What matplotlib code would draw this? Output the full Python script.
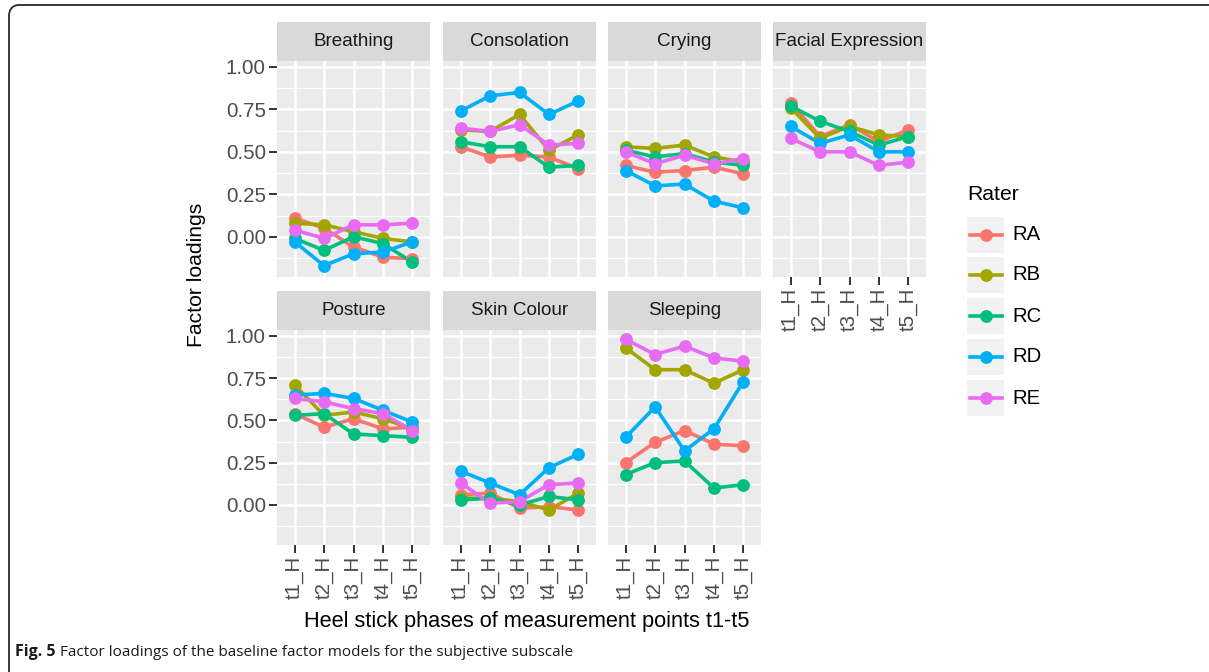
import matplotlib
matplotlib.use('Agg')
import matplotlib.pyplot as plt
from matplotlib.patches import Rectangle
from matplotlib.lines import Line2D
from matplotlib.path import Path
from matplotlib.patches import PathPatch

W, H = 1209, 672

phases = ['t1_H', 't2_H', 't3_H', 't4_H', 't5_H']
raters = ['RA', 'RB', 'RC', 'RD', 'RE']
rater_colors = ['#F8766D', '#A3A500', '#00BF7D', '#00B0F6', '#E76BF3']

breathing = {
    'RA': [0.11, 0.05, -0.06, -0.12, -0.13],
    'RB': [0.08, 0.07, 0.03, -0.01, -0.03],
    'RC': [-0.01, -0.08, 0.00, -0.04, -0.15],
    'RD': [-0.03, -0.17, -0.10, -0.09, -0.03],
    'RE': [0.04, -0.01, 0.07, 0.07, 0.08],
}
consolation = {
    'RA': [0.53, 0.47, 0.48, 0.47, 0.40],
    'RB': [0.63, 0.62, 0.72, 0.51, 0.60],
    'RC': [0.56, 0.53, 0.53, 0.41, 0.42],
    'RD': [0.74, 0.83, 0.85, 0.72, 0.80],
    'RE': [0.64, 0.62, 0.66, 0.54, 0.55],
}
crying = {
    'RA': [0.42, 0.38, 0.39, 0.41, 0.37],
    'RB': [0.53, 0.52, 0.54, 0.47, 0.44],
    'RC': [0.51, 0.47, 0.49, 0.44, 0.42],
    'RD': [0.39, 0.30, 0.31, 0.21, 0.17],
    'RE': [0.50, 0.43, 0.48, 0.43, 0.46],
}
facial_expression = {
    'RA': [0.79, 0.59, 0.66, 0.56, 0.63],
    'RB': [0.76, 0.58, 0.65, 0.60, 0.59],
    'RC': [0.77, 0.68, 0.62, 0.54, 0.59],
    'RD': [0.65, 0.55, 0.60, 0.50, 0.50],
    'RE': [0.58, 0.50, 0.50, 0.42, 0.44],
}
posture = {
    'RA': [0.54, 0.46, 0.51, 0.45, 0.46],
    'RB': [0.71, 0.53, 0.55, 0.51, 0.45],
    'RC': [0.53, 0.54, 0.42, 0.41, 0.40],
    'RD': [0.65, 0.66, 0.63, 0.56, 0.49],
    'RE': [0.63, 0.61, 0.57, 0.54, 0.44],
}
skin_colour = {
    'RA': [0.06, 0.07, -0.02, -0.01, -0.03],
    'RB': [0.04, 0.04, 0.02, -0.03, 0.07],
    'RC': [0.03, 0.04, 0.00, 0.05, 0.03],
    'RD': [0.20, 0.13, 0.06, 0.22, 0.30],
    'RE': [0.13, 0.01, 0.02, 0.12, 0.13],
}
sleeping = {
    'RA': [0.25, 0.37, 0.44, 0.36, 0.35],
    'RB': [0.93, 0.80, 0.80, 0.72, 0.80],
    'RC': [0.18, 0.25, 0.26, 0.10, 0.12],
    'RD': [0.40, 0.58, 0.32, 0.45, 0.73],
    'RE': [0.98, 0.89, 0.94, 0.87, 0.85],
}

facet_titles = ['Breathing', 'Consolation', 'Crying', 'Facial Expression',
                'Posture', 'Skin Colour', 'Sleeping']
facet_data = [breathing, consolation, crying, facial_expression,
              posture, skin_colour, sleeping]

y_ticks = [0.00, 0.25, 0.50, 0.75, 1.00]
y_minor = [-0.125, 0.125, 0.375, 0.625, 0.875]

FONT = 'Liberation Sans'
plt.rcParams['font.family'] = [FONT, 'DejaVu Sans']

fig = plt.figure(figsize=(W / 100, H / 100), dpi=100)
fig.patch.set_facecolor('white')


def px_axes(x0, y0, x1, y1, **kw):
    return fig.add_axes([x0 / W, 1 - y1 / H, (x1 - x0) / W, (y1 - y0) / H], **kw)


col_x = [(277, 430), (443, 596), (608, 761), (773, 926)]
row_y = [((22, 61), (61, 277)), ((291, 330), (330, 545))]

positions = [(0, 0), (0, 1), (0, 2), (0, 3), (1, 0), (1, 1), (1, 2)]
show_x = {(0, 3), (1, 0), (1, 1), (1, 2)}

xs = list(range(1, len(phases) + 1))
TICK_FS = 14.8

for (r, c), title, data in zip(positions, facet_titles, facet_data):
    x0, x1 = col_x[c]
    (sy0, sy1), (py0, py1) = row_y[r]
    ax = px_axes(x0, py0, x1, py1)
    ax.set_facecolor('#EBEBEB')
    ax.set_xlim(0.4, 5.6)
    ax.set_ylim(-0.237, 1.035)
    for s in ax.spines.values():
        s.set_visible(False)
    ax.set_xticks(xs)
    ax.set_yticks(y_ticks)
    ax.set_yticks(y_minor, minor=True)
    ax.grid(which='major', color='white', lw=1.8, zorder=0)
    ax.grid(which='minor', axis='y', color='white', lw=0.9, zorder=0)
    ax.set_axisbelow(True)
    ax.tick_params(which='minor', length=0)
    if c == 0:
        ax.set_yticklabels([f'{v:.2f}' for v in y_ticks])
        ax.tick_params(axis='y', length=6, width=1.4, color='#333333',
                       labelsize=TICK_FS, labelcolor='#4D4D4D', pad=2)
    else:
        ax.tick_params(axis='y', length=0, labelleft=False)
    if (r, c) in show_x:
        ax.set_xticklabels(phases, rotation=90)
        ax.tick_params(axis='x', length=6, width=1.4, color='#333333',
                       labelsize=TICK_FS, labelcolor='#4D4D4D', pad=2)
    else:
        ax.tick_params(axis='x', length=0, labelbottom=False)

    for rater, col in zip(raters, rater_colors):
        ax.plot(xs, data[rater], color=col, lw=2.6, zorder=2,
                solid_capstyle='butt')
    for rater, col in zip(raters, rater_colors):
        ax.plot(xs, data[rater], linestyle='none', marker='o', ms=8.2,
                color=col, mec=col, zorder=3)

    sax = px_axes(x0, sy0, x1, sy1)
    sax.set_facecolor('#D9D9D9')
    sax.set_xticks([])
    sax.set_yticks([])
    for s in sax.spines.values():
        s.set_visible(False)
    sax.text(0.5, 0.5, title, ha='center', va='center', fontsize=13.6,
             color='#1A1A1A', transform=sax.transAxes)

# overlay axes in pixel coordinates for legend keys and frame
ov = fig.add_axes([0, 0, 1, 1], zorder=-1)
ov.set_xlim(0, W)
ov.set_ylim(H, 0)
ov.axis('off')
ov.patch.set_alpha(0)

fig.text(197 / W, 1 - 275 / H, 'Factor loadings', rotation=90, ha='center',
         va='center', fontsize=15.2, color='black')
fig.text(527 / W, 1 - 622 / H, 'Heel stick phases of measurement points t1-t5',
         ha='center', va='center', fontsize=15.7, color='black')

# legend
fig.text(967 / W, 1 - 195 / H, 'Rater', ha='left', va='center', fontsize=15.2,
         color='black')
key_y = [235, 275, 316, 357, 398]
for ky, lab, col in zip(key_y, raters, rater_colors):
    ov.add_patch(Rectangle((967, ky - 18), 37, 36, facecolor='#F2F2F2',
                           edgecolor='none'))
    ov.add_line(Line2D([970, 1002], [ky, ky], color=col, lw=2.6))
    ov.plot([986], [ky], marker='o', ms=8.2, color=col, mec=col)
    fig.text(1012 / W, 1 - ky / H, lab, ha='left', va='center', fontsize=14.6,
             color='black')

# frame (top and left with rounded corner)
verts = [(9, H), (9, 16), (9, 6), (18, 5), (W, 5)]
codes = [Path.MOVETO, Path.LINETO, Path.CURVE3, Path.CURVE3, Path.LINETO]
ov.add_patch(PathPatch(Path(verts, codes), facecolor='none',
                       edgecolor='#2b2b2b', lw=1.3))

# caption
cap_font = ['Open Sans', 'DejaVu Sans']
t1 = fig.text(15 / W, 1 - 652 / H, 'Fig. 5', ha='left', va='center',
              fontsize=11.5, fontweight='bold', family=cap_font, color='#1a1a1a')
fig.canvas.draw()
bb = t1.get_window_extent()
fig.text((bb.x1 + 4) / W, 1 - 652 / H,
         'Factor loadings of the baseline factor models for the subjective subscale',
         ha='left', va='center', fontsize=11, family=cap_font, color='#1a1a1a')

fig.savefig('out.png', dpi=100, facecolor='white')
